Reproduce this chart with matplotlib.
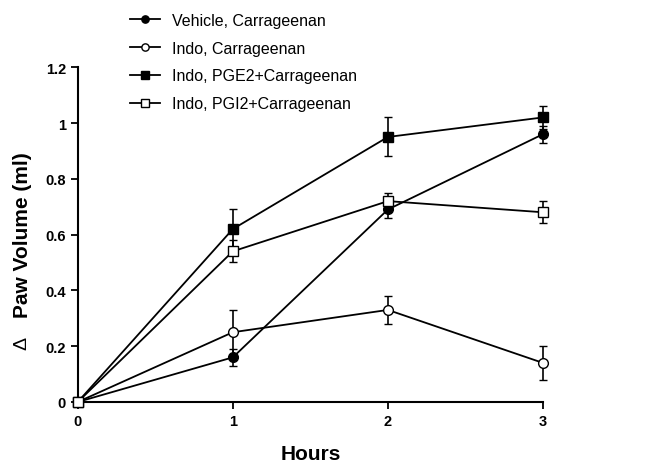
import matplotlib
matplotlib.use('Agg')
import matplotlib.pyplot as plt

# Time points (hours) and group means / SEM
hours = [0, 1, 2, 3]
vehicle = [0, 0.16, 0.69, 0.96]
vehicle_err = [0, 0.03, 0.03, 0.03]
indo = [0, 0.25, 0.33, 0.14]
indo_err = [0, 0.08, 0.05, 0.06]
pge2 = [0, 0.62, 0.95, 1.02]
pge2_err = [0, 0.07, 0.07, 0.04]
pgi2 = [0, 0.54, 0.72, 0.68]
pgi2_err = [0, 0.04, 0.03, 0.04]

plt.rcParams['font.family'] = ['Liberation Sans', 'DejaVu Sans']

fig = plt.figure(figsize=(6.48, 4.64), dpi=100)
ax = fig.add_axes([0.12, 0.1315, 0.718, 0.7215])

series = [
    (vehicle, vehicle_err, 'o', 'black', 'Vehicle, Carrageenan'),
    (indo, indo_err, 'o', 'white', 'Indo, Carrageenan'),
    (pge2, pge2_err, 's', 'black', 'Indo, PGE2+Carrageenan'),
    (pgi2, pgi2_err, 's', 'white', 'Indo, PGI2+Carrageenan'),
]
handles = []
for vals, errs, mk, fc, lab in series:
    h = ax.errorbar(hours, vals, yerr=errs, marker=mk, color='black', mfc=fc,
                    mec='black', ms=7, lw=1.3, capsize=3, elinewidth=1.2,
                    label=lab, clip_on=False, zorder=3)
    handles.append(h)

ax.set_xlim(0, 3)
ax.set_ylim(0, 1.2)
ax.set_xticks([0, 1, 2, 3])
ax.set_xticklabels(['0', '1', '2', '3'])
ax.set_yticks([0, 0.2, 0.4, 0.6, 0.8, 1.0, 1.2])
ax.set_yticklabels(['0', '0.2', '0.4', '0.6', '0.8', '1', '1.2'])
for s in ['top', 'right']:
    ax.spines[s].set_visible(False)
for s in ['left', 'bottom']:
    ax.spines[s].set_linewidth(1.5)
ax.tick_params(direction='out', length=5, width=1.3, labelsize=10.5)
for t in ax.get_xticklabels() + ax.get_yticklabels():
    t.set_fontweight('bold')

ax.set_xlabel('Hours', fontsize=15, fontweight='bold', labelpad=12)
fig.text(0.035, 0.494, 'Paw Volume (ml)', rotation=90, fontsize=15,
         fontweight='bold', ha='center', va='center')
fig.text(0.033, 0.26, 'Δ', rotation=90, fontsize=14,
         ha='center', va='center')

fig.legend(handles=[h[0] for h in handles],
           labels=[s[4] for s in series],
           loc='upper left', bbox_to_anchor=(0.2, 0.97), frameon=False,
           borderpad=0, borderaxespad=0,
           fontsize=11.5, labelspacing=0.8, handlelength=1.9,
           handletextpad=0.75, markerscale=0.75)

fig.savefig('out.png', dpi=100)
